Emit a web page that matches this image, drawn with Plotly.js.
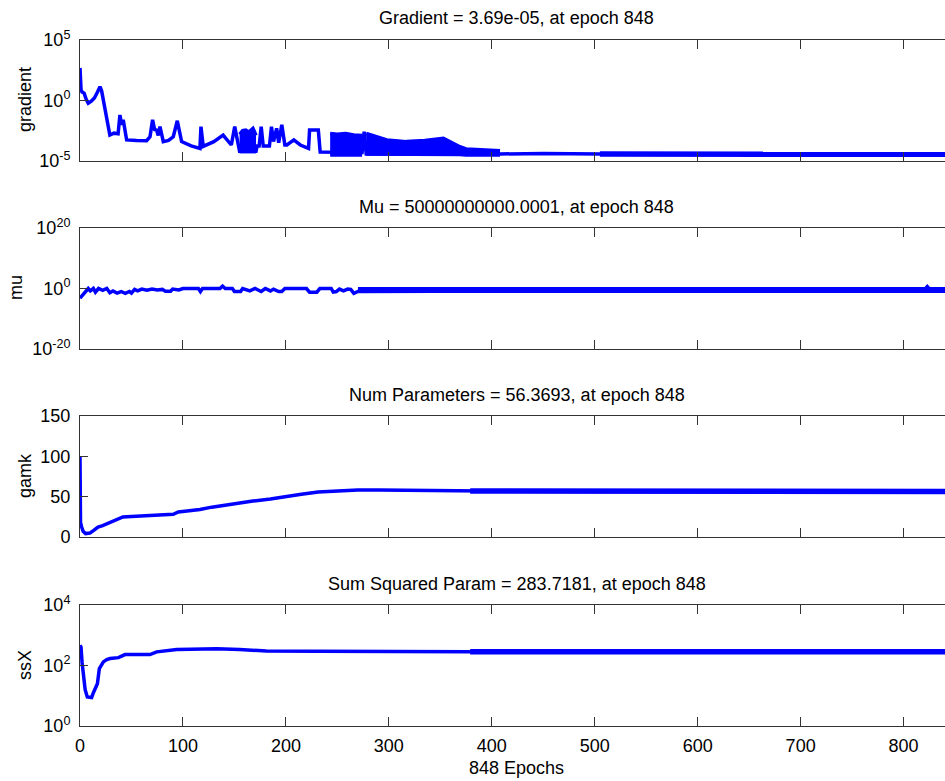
<!DOCTYPE html>
<html>
<head>
<meta charset="utf-8">
<script src="https://cdn.plot.ly/plotly-3.0.1.min.js"></script>
<style>
html, body { margin:0; padding:0; overflow:hidden; background:#fff; }
#chart { width:960px; height:781px; }
</style>
</head>
<body>
<div id="chart"></div>
<script>
// ---------------- data ----------------
var xTickVals = [0, 100, 200, 300, 400, 500, 600, 700, 800];
var xTickText = ['0', '100', '200', '300', '400', '500', '600', '700', '800'];

// Panel 1: gradient
var gradEpochs = [0, 1, 2, 4, 6, 8, 11, 14, 17, 19.4, 21, 24, 27, 29, 33, 37, 38.8, 40.5, 42, 45.3, 55, 64.7, 68, 70.5, 72.5, 74.4, 76, 77.7, 80.9, 86, 90.6, 94.5, 98.7, 108, 116.5, 117.5, 119.7, 130, 139, 147, 150.3, 153, 155, 171, 172, 174, 176, 178, 184, 186, 188, 191, 193, 196, 199, 201, 207.7, 214, 222, 223, 231.5, 233.3, 243, 274, 276, 277.5, 278, 408, 450, 505, 848];
var gradValues = [490, 7.9, 5.0, 4.0, 1.26, 0.59, 0.89, 1.6, 5.0, 13.8, 6.3, 0.25, 0.01, 1.4e-3, 2.0e-3, 1.8e-3, 6.3e-2, 1.0e-2, 2.5e-2, 5.5e-4, 5.0e-4, 4.8e-4, 1.0e-3, 2.5e-2, 4.0e-3, 3.6e-3, 1.3e-3, 6.9e-3, 4.0e-4, 5.0e-4, 1.0e-3, 2.1e-2, 4.0e-4, 1.8e-4, 1.1e-4, 6.9e-3, 1.6e-4, 4.0e-4, 1.4e-3, 2.1e-4, 6.9e-3, 5.5e-4, 6.3e-5, 6.3e-5, 1.7e-4, 1.7e-4, 6.9e-3, 1.7e-4, 1.7e-4, 6.9e-3, 4.0e-4, 5.0e-3, 3.2e-4, 1.0e-2, 2.1e-4, 2.1e-4, 5.5e-4, 2.1e-4, 1.1e-4, 3.6e-3, 3.6e-3, 5.6e-5, 5.6e-5, 5.0e-5, 2.6e-3, 5.0e-5, 3.8e-5, 3.8e-5, 4.2e-5, 3.7e-5, 3.69e-5];
// oscillating stretches of the gradient (upper / lower envelopes)
var gradBandAEpochs = [155, 158, 161, 164, 168, 171];
var gradBandAUpper  = [1.6e-3, 3.2e-3, 3.6e-3, 2.5e-3, 5.0e-3, 1.3e-3];
var gradBandALower  = [5.9e-5, 5.9e-5, 5.9e-5, 5.9e-5, 5.9e-5, 5.9e-5];
var gradBandBEpochs = [243, 250, 258, 266, 274];
var gradBandBUpper  = [1.9e-3, 1.6e-3, 1.9e-3, 1.4e-3, 1.3e-3];
var gradBandBLower  = [3.2e-5, 3.2e-5, 3.2e-5, 3.2e-5, 3.2e-5];
var gradBandCEpochs = [278, 298, 317, 335, 353, 369, 375, 390, 408];
var gradBandCUpper  = [1.9e-3, 5.5e-4, 4.0e-4, 5.0e-4, 7.6e-4, 1.5e-4, 1.0e-4, 8.9e-5, 7.1e-5];
var gradBandCLower  = [3.8e-5, 3.8e-5, 3.8e-5, 3.8e-5, 3.8e-5, 3.5e-5, 3.2e-5, 3.2e-5, 3.2e-5];
var gradTailEpochs = [505, 848];
var gradTailValues = [3.7e-5, 3.69e-5];
var gradTickVals = [1e-5, 1, 1e5];
var gradTickText = ['10<sup>-5</sup>', '10<sup>0</sup>', '10<sup>5</sup>'];

// Panel 2: mu
var muEpochs = [0, 2, 5, 8, 10, 13, 15, 18, 22, 26, 29, 32, 36, 40, 44, 48, 50, 53, 56, 60, 65, 70, 75, 80, 83, 88, 90, 96, 100, 115, 117, 119, 136, 138.5, 141, 148, 150, 156, 158, 165, 170, 176, 180, 185, 188, 193, 196, 199, 220, 223, 230, 233, 244, 246, 249, 252, 256, 260, 263, 266, 270, 820, 823, 826, 848];
var muValues = [6.3e-4, 3.2e-3, 6.3e-2, 1, 0.16, 1, 0.063, 1, 0.25, 1, 0.04, 0.16, 0.032, 0.1, 0.025, 0.1, 0.032, 0.5, 0.16, 0.63, 0.25, 0.63, 0.32, 0.5, 0.13, 0.13, 0.63, 0.32, 1, 1, 0.1, 1, 1, 6.3, 1, 1, 0.1, 0.1, 1, 0.16, 1, 0.1, 1, 0.16, 0.63, 0.1, 0.1, 1, 1, 0.063, 0.063, 1, 1, 0.063, 0.1, 0.63, 0.16, 0.63, 0.5, 0.025, 0.1, 0.32, 4, 0.32, 0.32];
var muBandEpochs = [270, 848];
var muBandUpper  = [0.8, 0.8];
var muBandLower  = [0.12, 0.12];
var muTickVals = [1e-20, 1, 1e20];
var muTickText = ['10<sup>-20</sup>', '10<sup>0</sup>', '10<sup>20</sup>'];

// Panel 3: gamk (num parameters)
var gamkEpochs = [0, 0.5, 1.6, 3, 5.4, 9.6, 13, 17.5, 22, 27.2, 31, 35.2, 38, 41.7, 50, 66, 80, 90.6, 95.5, 105, 116.5, 128, 139, 150, 168, 185, 200.5, 215, 231.3, 250, 270, 290, 320, 350, 380, 420, 500, 600, 700, 848];
var gamkValues = [100, 18, 12.4, 7, 4.2, 4.9, 8, 12.4, 14, 16.6, 18.5, 20.7, 23, 24.8, 25.5, 26.9, 27.5, 28.1, 31, 32, 34, 37, 39.3, 41.5, 44.6, 47, 50.4, 53, 55.8, 57, 58.2, 58.3, 57.8, 57.3, 57, 56.7, 56.5, 56.4, 56.4, 56.37];
var gamkTailEpochs = [379, 848];
var gamkTailValues = [57.0, 56.37];
var gamkTickVals = [0, 50, 100, 150];
var gamkTickText = ['0', '50', '100', '150'];

// Panel 4: ssX (sum squared param)
var ssxEpochs = [0, 1, 2, 3.5, 5, 7.1, 11.3, 13, 14.6, 16.9, 18.8, 22.7, 26, 29.2, 37.3, 43.7, 68, 74.5, 94, 133, 155, 181, 230, 300, 379, 848];
var ssxValues = [468, 400, 126, 40, 15.8, 9.1, 8.7, 12.6, 17.4, 25.1, 79.4, 132, 158, 170, 182, 229, 229, 282, 339, 355, 339, 302, 295, 288, 285, 283.7];
var ssxTailEpochs = [379, 848];
var ssxTailValues = [285, 283.7];
var ssxTickVals = [1, 100, 1e4];
var ssxTickText = ['10<sup>0</sup>', '10<sup>2</sup>', '10<sup>4</sup>'];

var titles = ['Gradient = 3.69e-05, at epoch 848', 'Mu = 50000000000.0001, at epoch 848',
              'Num Parameters = 56.3693, at epoch 848', 'Sum Squared Param = 283.7181, at epoch 848'];
var yLabels = ['gradient', 'mu', 'gamk', 'ssX'];
var xLabel = '848 Epochs';

// ---------------- layout helpers ----------------
var W = 960, H = 781, ML = 80, MR = 7, MT = 40, MB = 55;
var PH = H - MT - MB, PW = W - ML - MR;
function py(p) { return (H - MB - p) / PH; }         // pixel y -> paper y
function px(p) { return (p - ML) / PW; }             // pixel x -> paper x
var panels = [[40, 161], [228, 349], [416, 537], [605, 726]];
var titleY = [18, 207, 395, 584];
var yLabelPos = [[25, 100], [16, 288], [25, 476], [25, 665]];

var BLUE = '#0000ff', LW = 3.5, AX = '#333';
var FONT = 'Liberation Sans, Arial, Helvetica, sans-serif';

function line(x, y, ax, w) {
  return { x: x, y: y, type: 'scatter', mode: 'lines', xaxis: 'x' + ax, yaxis: 'y' + ax,
           line: { color: BLUE, width: w || LW }, hoverinfo: 'skip', showlegend: false };
}
function band(x, lo, hi, ax) {
  return [
    { x: x, y: lo, type: 'scatter', mode: 'lines', xaxis: 'x' + ax, yaxis: 'y' + ax,
      line: { color: BLUE, width: LW }, hoverinfo: 'skip', showlegend: false },
    { x: x, y: hi, type: 'scatter', mode: 'lines', xaxis: 'x' + ax, yaxis: 'y' + ax, fill: 'tonexty',
      fillcolor: BLUE, line: { color: BLUE, width: LW }, hoverinfo: 'skip', showlegend: false }
  ];
}

var data = [];
data.push(line(gradEpochs, gradValues, 1));
data = data.concat(band(gradBandAEpochs, gradBandALower, gradBandAUpper, 1));
data = data.concat(band(gradBandBEpochs, gradBandBLower, gradBandBUpper, 1));
data = data.concat(band(gradBandCEpochs, gradBandCLower, gradBandCUpper, 1));
data.push(line(gradTailEpochs, gradTailValues, 1, 5.5));
data.push(line(muEpochs, muValues, 2));
data = data.concat(band(muBandEpochs, muBandLower, muBandUpper, 2));
data.push(line(gamkEpochs, gamkValues, 3));
data.push(line(gamkTailEpochs, gamkTailValues, 3, 5.5));
data.push(line(ssxEpochs, ssxValues, 4));
data.push(line(ssxTailEpochs, ssxTailValues, 4, 5.5));

var layout = {
  width: W, height: H,
  margin: { l: ML, r: MR, t: MT, b: MB, pad: 0 },
  paper_bgcolor: '#fff', plot_bgcolor: '#fff',
  font: { family: FONT, size: 18, color: '#000' },
  showlegend: false,
  annotations: []
};

var yCfg = [
  { type: 'log', range: [-5, 5], tickvals: gradTickVals, ticktext: gradTickText },
  { type: 'log', range: [-20, 20], tickvals: muTickVals, ticktext: muTickText },
  { type: 'linear', range: [0, 150], tickvals: gamkTickVals, ticktext: gamkTickText },
  { type: 'log', range: [0, 4], tickvals: ssxTickVals, ticktext: ssxTickText }
];

for (var i = 0; i < 4; i++) {
  var n = i + 1;
  var dom = [py(panels[i][1]), py(panels[i][0])];
  layout['xaxis' + n] = {
    domain: [0, 1], anchor: 'y' + n, range: [0, 848],
    tickmode: 'array', tickvals: xTickVals, ticktext: xTickText,
    ticks: 'inside', ticklen: 9, tickwidth: 1, tickcolor: AX,
    showline: true, linecolor: AX, linewidth: 1, mirror: 'ticks',
    showgrid: false, zeroline: false, showticklabels: (n === 4),
    tickfont: { family: FONT, size: 18, color: '#000' }, ticklabelstandoff: 3
  };
  var yc = yCfg[i];
  layout['yaxis' + n] = {
    domain: dom, anchor: 'x' + n, type: yc.type, range: yc.range,
    tickmode: 'array', tickvals: yc.tickvals, ticktext: yc.ticktext,
    ticks: 'inside', ticklen: 8, tickwidth: 1, tickcolor: AX,
    showline: true, linecolor: AX, linewidth: 1, mirror: 'ticks',
    showgrid: false, zeroline: false,
    tickfont: { family: FONT, size: 18, color: '#000' }, ticklabelstandoff: 5
  };
  layout.annotations.push({
    text: titles[i], xref: 'paper', yref: 'paper', x: 0.5, y: py(titleY[i]),
    xanchor: 'center', yanchor: 'middle', showarrow: false,
    font: { family: FONT, size: 18, color: '#000' }
  });
  layout.annotations.push({
    text: yLabels[i], xref: 'paper', yref: 'paper', x: px(yLabelPos[i][0]), y: py(yLabelPos[i][1]),
    xanchor: 'center', yanchor: 'middle', textangle: -90, showarrow: false,
    font: { family: FONT, size: 18, color: '#000' }
  });
}
layout.annotations.push({
  text: xLabel, xref: 'paper', yref: 'paper', x: 0.5, y: py(768),
  xanchor: 'center', yanchor: 'middle', showarrow: false,
  font: { family: FONT, size: 18, color: '#000' }
});

Plotly.newPlot('chart', data, layout, { staticPlot: true, displayModeBar: false });
</script>
</body>
</html>
